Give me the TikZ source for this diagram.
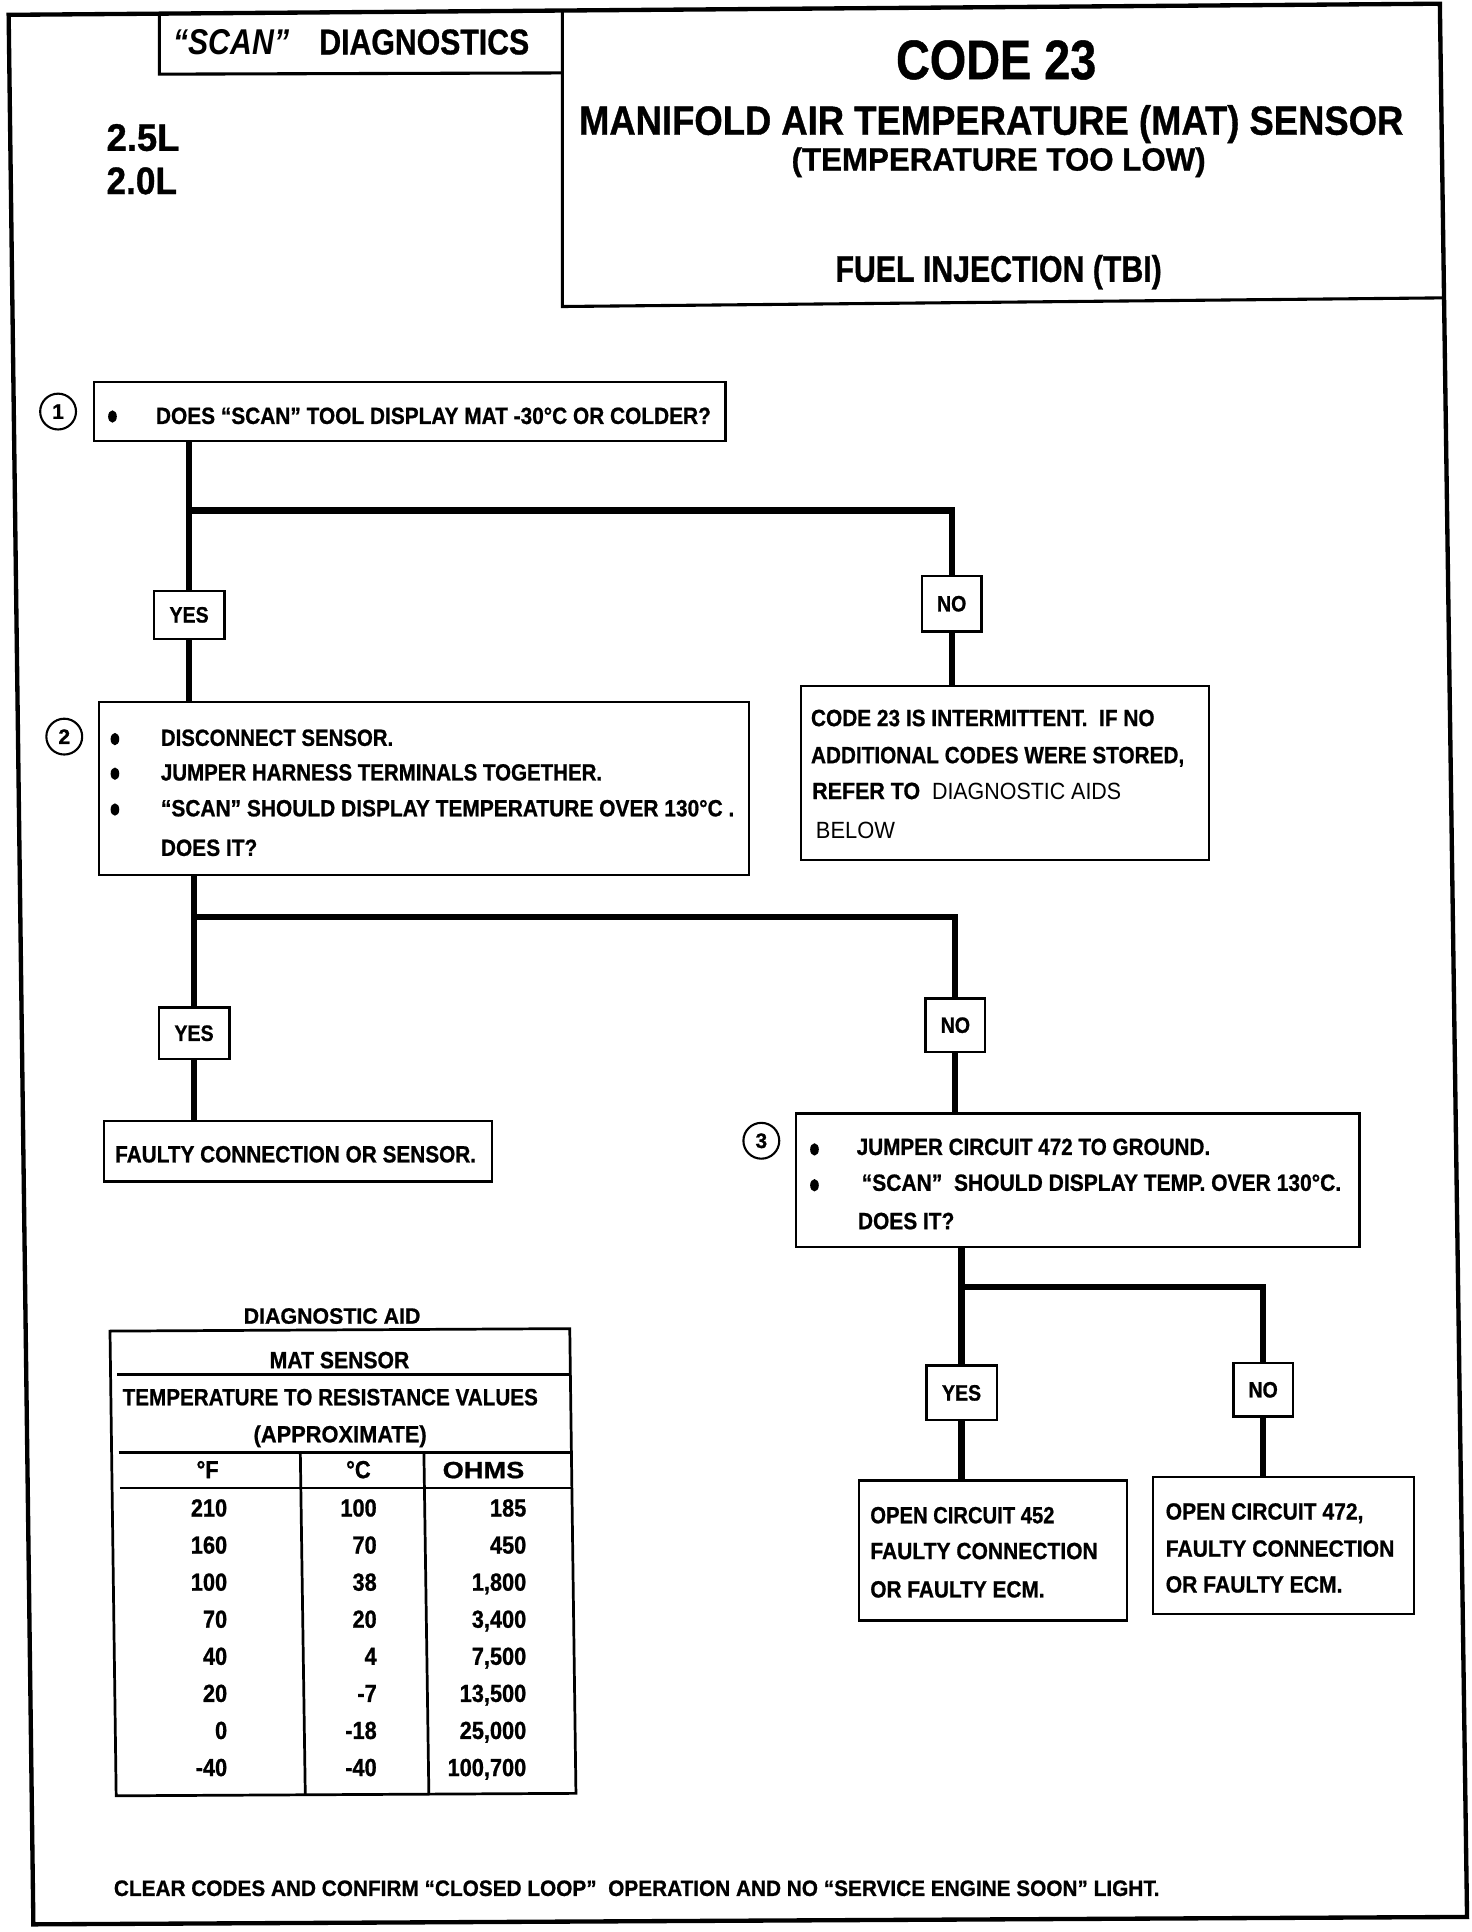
\documentclass[tikz,border=0pt]{standalone}
\usepackage{fontspec}
\setmainfont{Liberation Sans}[BoldFeatures={FakeBold=0.9}]
\newfontfamily\cf{Liberation Sans}[FakeStretch=0.88, BoldFeatures={FakeBold=0.9}]
\usepackage{graphicx}
\usetikzlibrary{shapes.geometric}
\newsavebox\fitbox
\makeatletter
\newcommand\fitx[2]{\sbox\fitbox{#2}\edef\fitfac{\strip@pt\dimexpr #1pt*65536/\wd\fitbox\relax}\scalebox{\fitfac}[1]{\usebox\fitbox}}
\makeatother
\newcommand\tl[3]{{\fontsize{#1}{#1}\selectfont\bfseries\fitx{#2}{#3}}}
\newcommand\tn{\cf\bfseries\fontsize{20}{20}\selectfont}
\begin{document}
\begin{tikzpicture}[x=1pt,y=-1pt,
  box/.style={draw, line width=2pt, inner sep=0pt},
  yn/.style={box, font=\cf\bfseries\fontsize{18}{18}\selectfont},
  conn/.style={line width=5pt},
  num/.style={draw, circle, line width=1.7pt, minimum size=29pt, inner sep=0pt, font=\bfseries\fontsize{17}{17}\selectfont},
  bul/.style={fill, ellipse, minimum width=7pt, minimum height=10pt, inner sep=0pt},
  tw/.style={anchor=base west, inner sep=0pt},
  tc/.style={anchor=base, inner sep=0pt},
  te/.style={anchor=base east, inner sep=0pt, font=\tn},
  frame/.style={line width=3.5pt},
  hline/.style={line width=2.5pt},
  tline/.style={line width=2.2pt}]
\useasboundingbox (0,0) rectangle (1191,1563.2);
% outer frame and header
\draw[frame] (7,12) -- (1165,3) -- (1187,1551) -- (27,1557) -- cycle;
\draw[hline] (129,11) -- (129,60) -- (455,59);
\draw[hline] (455,9) -- (455,248) -- (1168,241);
\node[tw] (hscan) at (140,44) {\tl{29}{288}{\textit{“SCAN”}\quad DIAGNOSTICS}};
\node[tw] (h25) at (86,122) {\tl{31}{59}{2.5L}};
\node[tw] (h20) at (86,157) {\tl{31}{57}{2.0L}};
\node[tc] (hcode) at (806,64) {\tl{45}{162}{CODE 23}};
\node[tc] (hmat) at (802,109) {\tl{33}{667}{MANIFOLD AIR TEMPERATURE (MAT) SENSOR}};
\node[tc] (hlow) at (808,138) {\tl{26}{335}{(TEMPERATURE TOO LOW)}};
\node[tc] (hfuel) at (808,228) {\tl{30}{264}{FUEL INJECTION (TBI)}};
% step 1
\node[num] (n1) at (47,333) {1};
\node[box, minimum width=511pt, minimum height=48pt] (s1) at (331.5,333) {};
\node[bul] (b11) at (91,337) {};
\node[tw] (t11) at (126,343) {\tl{19}{449}{DOES “SCAN” TOOL DISPLAY MAT -30°C OR COLDER?}};
\node[yn, minimum width=57pt, minimum height=39pt] (yes1) at (153,497.5) {YES};
\node[yn, minimum width=48pt, minimum height=45pt] (no1) at (770,488.5) {NO};
\coordinate (j1) at (153,413);
\draw[conn] (s1.south -| yes1) -- (yes1.north);
\draw[conn] (j1) -| (no1.north);
% no-1 result
\node[box, minimum width=330pt, minimum height=141pt] (r1) at (813,625.5) {};
\node[tw] (r11) at (656,587.5) {\tl{19}{278}{CODE 23 IS INTERMITTENT.\ \ IF NO}};
\node[tw] (r12) at (656,617.5) {\tl{19}{302}{ADDITIONAL CODES WERE STORED,}};
\node[tw] (r13) at (657,646.5) {\tl{19}{250}{REFER TO\ \ {\mdseries DIAGNOSTIC AIDS}}};
\node[tw] (r14) at (660,678.5) {\tl{19}{64}{\mdseries BELOW}};
\draw[conn] (no1.south) -- (no1.south |- r1.north);
% step 2
\node[num] (n2) at (52,596) {2};
\node[box, minimum width=526pt, minimum height=140pt] (s2) at (343,638) {};
\draw[conn] (yes1.south) -- (yes1.south |- s2.north);
\node[bul] (b21) at (93,598) {};
\node[bul] (b22) at (93,626) {};
\node[bul] (b23) at (93,655) {};
\node[tw] (t21) at (130,603.5) {\tl{19}{188}{DISCONNECT SENSOR.}};
\node[tw] (t22) at (130,631.5) {\tl{19}{357}{JUMPER HARNESS TERMINALS TOGETHER.}};
\node[tw] (t23) at (130,660.5) {\tl{19}{464}{“SCAN” SHOULD DISPLAY TEMPERATURE OVER 130°C .}};
\node[tw] (t24) at (130,692.5) {\tl{19}{78}{DOES IT?}};
\node[yn, minimum width=57pt, minimum height=42pt] (yes2) at (157,836) {YES};
\node[yn, minimum width=48pt, minimum height=43pt] (no2) at (773,829.5) {NO};
\coordinate (j2) at (157,742);
\draw[conn] (s2.south -| yes2) -- (yes2.north);
\draw[conn] (j2) -| (no2.north);
\node[box, minimum width=314pt, minimum height=49pt] (f1) at (241,931.5) {};
\node[tw] (f1t) at (93,940.5) {\tl{19}{292}{FAULTY CONNECTION OR SENSOR.}};
\draw[conn] (yes2.south) -- (yes2.south |- f1.north);
% step 3
\node[num] (n3) at (616,923) {3};
\node[box, minimum width=456pt, minimum height=108pt] (s3) at (872,955) {};
\draw[conn] (no2.south) -- (no2.south |- s3.north);
\node[bul] (b31) at (659,930) {};
\node[bul] (b32) at (659,959) {};
\node[tw] (t31) at (693,934.5) {\tl{19}{286}{JUMPER CIRCUIT 472 TO GROUND.}};
\node[tw] (t32) at (697,963.5) {\tl{19}{388}{“SCAN”\ \ SHOULD DISPLAY TEMP. OVER 130°C.}};
\node[tw] (t33) at (694,994.5) {\tl{19}{78}{DOES IT?}};
\node[yn, minimum width=57pt, minimum height=44pt] (yes3) at (778,1127) {YES};
\node[yn, minimum width=48pt, minimum height=43pt] (no3) at (1022,1124.5) {NO};
\coordinate (j3) at (778,1041);
\draw[conn] (s3.south -| yes3) -- (yes3.north);
\draw[conn] (j3) -| (no3.north);
\node[box, minimum width=217pt, minimum height=113pt] (l3) at (803.5,1254.5) {};
\node[box, minimum width=211pt, minimum height=111pt] (rr3) at (1038.5,1250.5) {};
\draw[conn] (yes3.south) -- (yes3.south |- l3.north);
\draw[conn] (no3.south) -- (no3.south |- rr3.north);
\node[tw] (l31) at (704,1232.5) {\tl{19}{149}{OPEN CIRCUIT 452}};
\node[tw] (l32) at (704,1261.5) {\tl{19}{184}{FAULTY CONNECTION}};
\node[tw] (l33) at (704,1292.5) {\tl{19}{141}{OR FAULTY ECM.}};
\node[tw] (r31) at (943,1229.5) {\tl{19}{160}{OPEN CIRCUIT 472,}};
\node[tw] (r32) at (943,1259.5) {\tl{19}{185}{FAULTY CONNECTION}};
\node[tw] (r33) at (943,1288.5) {\tl{19}{143}{OR FAULTY ECM.}};
% diagnostic aid table
\node[tw] (da) at (197,1071) {\tl{18}{143}{DIAGNOSTIC AID}};
\draw[tline] (89,1077) -- (461,1075) -- (466,1451) -- (94,1453) -- cycle;
\draw[tline] (95,1112) -- (462,1112);
\draw[tline] (96,1175) -- (463,1175);
\draw[tline] (97,1204) -- (463,1204);
\draw[tline] (243,1176) -- (247,1452);
\draw[tline] (343,1176) -- (347,1452);
\node[tw] (ta1) at (218,1107) {\tl{19}{113}{MAT SENSOR}};
\node[tw] (ta2) at (99,1137) {\tl{19}{336}{TEMPERATURE TO RESISTANCE VALUES}};
\node[tw] (ta3) at (205,1167) {\tl{19}{140}{(APPROXIMATE)}};
\node[tc, font=\tn] (hf) at (168,1196) {°F};
\node[tc, font=\tn] (hc) at (290,1196) {°C};
\node[tw] (ho) at (358,1196) {\tl{19}{66}{OHMS}};
\foreach \f/\c/\o [count=\i] in {210/100/185, 160/70/450, 100/38/{1,800}, 70/20/{3,400}, 40/4/{7,500}, 20/-7/{13,500}, 0/-18/{25,000}, -40/-40/{100,700}} {
  \node[te] (f\i) at (184,1197+30*\i) {\f};
  \node[te] (c\i) at (305,1197+30*\i) {\c};
  \node[te] (o\i) at (426,1197+30*\i) {\o};
}
% bottom line
\node[tw] (clear) at (92,1534) {\tl{18}{846}{CLEAR CODES AND CONFIRM “CLOSED LOOP”\ \ OPERATION AND NO “SERVICE ENGINE SOON” LIGHT.}};
\end{tikzpicture}
\end{document}
